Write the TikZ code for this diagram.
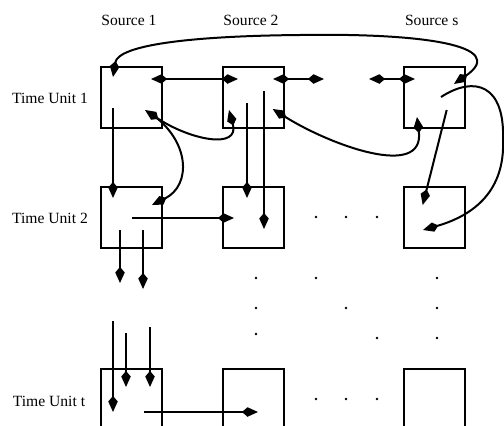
\documentclass[tikz,border=0pt]{standalone}
\usepackage{fontspec}
\setmainfont{Liberation Serif}
\usetikzlibrary{arrows.meta}
\begin{document}
\begin{tikzpicture}[x=1pt,y=-1pt,
  >={Kite[length=16pt,width=9.5pt,inset=5.5pt]},
  cell/.style={draw,line width=2pt,minimum width=61pt,minimum height=61pt,inner sep=0pt},
  lbl/.style={font=\fontsize{15.6}{18}\selectfont,inner sep=0pt},
  conn/.style={line width=2pt},
  dotmark/.style={circle,fill,inner sep=0pt,minimum size=2.8pt}]
\clip (0,0) rectangle (504,426);
% labels
\node[lbl] (s1) at (129,20) {Source 1};
\node[lbl] (s2) at (251,20) {Source 2};
\node[lbl] (ss) at (431.7,20) {Source s};
\node[lbl] (t1) at (50,98) {Time Unit 1};
\node[lbl] (t2) at (50,218) {Time Unit 2};
\node[lbl] (tt) at (49,401) {Time Unit t};
% boxes
\node[cell] (A1) at (131.5,97.5) {};
\node[cell] (B1) at (253,97.5) {};
\node[cell] (S1) at (434,97.5) {};
\node[cell] (A2) at (131.5,217.5) {};
\node[cell] (B2) at (253,217.5) {};
\node[cell] (S2) at (434,217.5) {};
\node[cell] (At) at (131.5,399.5) {};
\node[cell] (Bt) at (253,399.5) {};
\node[cell] (St) at (434,399.5) {};
% dots
\foreach \i/\x/\y in {1/316/217,2/346/217,3/377/217,
  4/256/278,5/316/278,6/437/278,
  7/256/308,8/346/308,9/437/308,
  10/256/334,11/377/338,12/437/338,
  13/316/399,14/346/399,15/377/399}
  \node[dotmark] (d\i) at (\x,\y) {};
% coordinates
\coordinate (h1a) at (151,79);   \coordinate (h1b) at (238,79);
\coordinate (h2a) at (273,79);   \coordinate (h2b) at (324,79);
\coordinate (h3a) at (369,79);   \coordinate (h3b) at (415,79);
\coordinate (v1a) at (113,108);  \coordinate (v1b) at (113,198);
\coordinate (v2a) at (247,103);  \coordinate (v2b) at (247,198);
\coordinate (v3a) at (264,91);   \coordinate (v3b) at (264,229);
\coordinate (h4a) at (132,218);  \coordinate (h4b) at (234,218);
\coordinate (v4a) at (120,230);  \coordinate (v4b) at (120,283);
\coordinate (v5a) at (143,230);  \coordinate (v5b) at (143,289);
\coordinate (v6a) at (113,321);  \coordinate (v6b) at (113,412);
\coordinate (v7a) at (126,333);  \coordinate (v7b) at (126,387);
\coordinate (v8a) at (150,327);  \coordinate (v8b) at (150,387);
\coordinate (h5a) at (144,412);  \coordinate (h5b) at (258,412);
\coordinate (sda) at (446.7,110); \coordinate (sdb) at (422.7,205);
\coordinate (ta) at (113,77); \coordinate (tm) at (300,35); \coordinate (tb) at (454,84);
\coordinate (ca) at (145,110); \coordinate (cb) at (229,110);
\coordinate (da) at (150,113); \coordinate (db) at (152,205);
\coordinate (ea) at (272.7,109); \coordinate (eb) at (417,117);
\coordinate (fa) at (441,97); \coordinate (fm) at (503,140); \coordinate (fb) at (423,230);
% straight connectors
\draw[conn,<->] (h1a) -- (h1b);
\draw[conn,<->] (h2a) -- (h2b);
\draw[conn,<->] (h3a) -- (h3b);
\draw[conn,->] (v1a) -- (v1b);
\draw[conn,->] (v2a) -- (v2b);
\draw[conn,->] (v3a) -- (v3b);
\draw[conn,->] (h4a) -- (h4b);
\draw[conn,->] (v4a) -- (v4b);
\draw[conn,->] (v5a) -- (v5b);
\draw[conn,->] (v6a) -- (v6b);
\draw[conn,->] (v7a) -- (v7b);
\draw[conn,->] (v8a) -- (v8b);
\draw[conn,->] (h5a) -- (h5b);
\draw[conn,->] (sda) -- (sdb);
% curved connectors
\draw[conn,<->] (ta) .. controls (118,45) and (190,36) .. (tm) .. controls (420,33) and (510,45) .. (tb);
\draw[conn,<->] (ca) .. controls (190,140) and (240,150) .. (cb);
\draw[conn,->] (da) .. controls (190,140) and (192,185) .. (db);
\draw[conn,<->] (ea) .. controls (330,145) and (425,180) .. (eb);
\draw[conn,->] (fa) .. controls (475,75) and (505,85) .. (fm) .. controls (505,190) and (475,215) .. (fb);
\end{tikzpicture}
\end{document}
